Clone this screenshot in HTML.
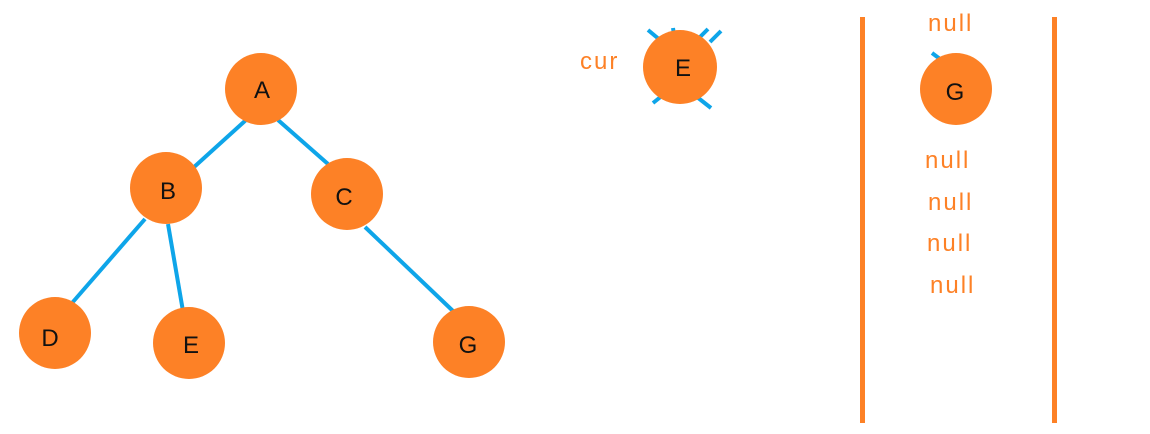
<!DOCTYPE html>
<html><head><style>body{margin:0;background:#fff}</style></head><body>
<svg width="1150" height="429" xmlns="http://www.w3.org/2000/svg" font-family="Liberation Sans, sans-serif">
<g stroke="#0ea5e9" stroke-width="4" stroke-linecap="butt">
<line x1="246" y1="120" x2="193" y2="168"/>
<line x1="278" y1="120" x2="328" y2="164"/>
<line x1="145" y1="219" x2="72" y2="303"/>
<line x1="168" y1="224" x2="184" y2="317"/>
<line x1="365" y1="227" x2="453" y2="311"/>
<line x1="648" y1="30" x2="660" y2="40"/>
<line x1="673" y1="28" x2="675" y2="41"/>
<line x1="699" y1="38" x2="708" y2="29"/>
<line x1="710" y1="42" x2="721" y2="31"/>
<line x1="653" y1="103" x2="663" y2="95"/>
<line x1="697" y1="97" x2="711" y2="108"/>
<line x1="932" y1="53" x2="940" y2="59"/>
</g>
<g fill="#fd8126">
<circle cx="261" cy="89" r="36"/>
<circle cx="166" cy="188" r="36"/>
<circle cx="347" cy="194" r="36"/>
<circle cx="55" cy="333" r="36"/>
<circle cx="189" cy="343" r="36"/>
<circle cx="469" cy="342" r="36"/>
<circle cx="680" cy="67" r="37"/>
<circle cx="956" cy="89" r="36"/>
</g>
<g font-size="24" fill="#111" text-anchor="middle">
<text x="262" y="98">A</text><text x="168" y="199">B</text><text x="344" y="205">C</text>
<text x="50" y="346">D</text><text x="191" y="353">E</text><text x="468" y="353">G</text>
<text x="683" y="76">E</text><text x="955" y="100">G</text>
</g>
<g fill="#fd8126">
<rect x="860" y="17" width="5" height="406"/>
<rect x="1052" y="17" width="5" height="406"/>
</g>
<g font-size="24" fill="#fd8126" letter-spacing="2">
<text x="580" y="69">cur</text>
<text x="928" y="31">null</text>
<text x="925" y="168">null</text>
<text x="928" y="210">null</text>
<text x="927" y="251">null</text>
<text x="930" y="293">null</text>
</g>
</svg>
</body></html>
